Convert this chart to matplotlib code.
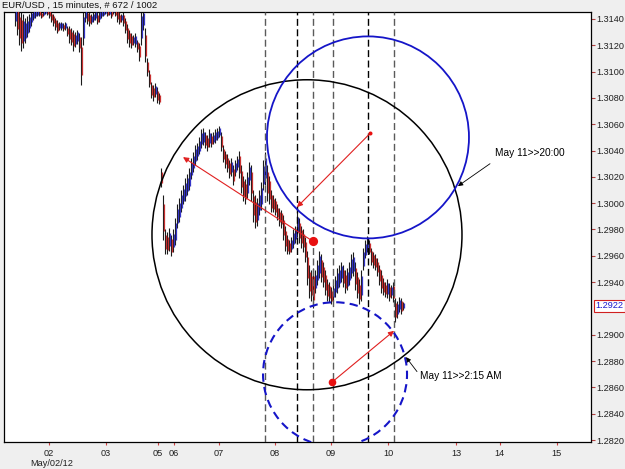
import numpy as np
import matplotlib
matplotlib.use("Agg")
import matplotlib.pyplot as plt
from matplotlib.patches import Ellipse

plt.rcParams['font.family'] = ['Liberation Sans', 'DejaVu Sans']

# ---------------- data (EUR/USD, 15 minute bars, sampled) ----------------
seg1_high = [1.3151, 1.3151, 1.3147, 1.3145, 1.3144, 1.3141, 1.3142, 1.3144, 1.3147, 1.3148,
             1.3147, 1.3148, 1.3147, 1.3145, 1.3147, 1.3148, 1.3147, 1.3148, 1.3145, 1.3144,
             1.3141, 1.3139, 1.3138, 1.3138, 1.3137, 1.3138, 1.3135, 1.3135, 1.3133, 1.3132,
             1.3130, 1.3132, 1.3129, 1.3126, 1.3147, 1.3151, 1.3147, 1.3145, 1.3144, 1.3145,
             1.3147, 1.3145, 1.3147, 1.3148, 1.3147, 1.3148, 1.3147, 1.3148, 1.3147, 1.3150,
             1.3148, 1.3147, 1.3145, 1.3144, 1.3145, 1.3141, 1.3136, 1.3132, 1.3129, 1.3128,
             1.3129, 1.3124, 1.3122, 1.3148, 1.3148, 1.3133, 1.3110, 1.3101, 1.3092, 1.3090,
             1.3091, 1.3088, 1.3084]
seg1_low = [1.3135, 1.3128, 1.3120, 1.3116, 1.3118, 1.3122, 1.3126, 1.3130, 1.3135, 1.3139,
            1.3141, 1.3142, 1.3142, 1.3141, 1.3142, 1.3144, 1.3143, 1.3141, 1.3138, 1.3135,
            1.3132, 1.3129, 1.3132, 1.3132, 1.3131, 1.3132, 1.3127, 1.3122, 1.3120, 1.3116,
            1.3119, 1.3121, 1.3115, 1.3090, 1.3120, 1.3138, 1.3136, 1.3135, 1.3136, 1.3138,
            1.3139, 1.3136, 1.3138, 1.3141, 1.3142, 1.3144, 1.3142, 1.3143, 1.3141, 1.3144,
            1.3142, 1.3138, 1.3136, 1.3138, 1.3135, 1.3129, 1.3122, 1.3119, 1.3118, 1.3120,
            1.3119, 1.3115, 1.3108, 1.3120, 1.3132, 1.3107, 1.3097, 1.3088, 1.3080, 1.3078,
            1.3081, 1.3076, 1.3075]
seg2_high = [1.3027, 1.3006, 1.2980, 1.2978, 1.2981, 1.2976, 1.2980, 1.2989, 1.2999, 1.3004,
             1.3010, 1.3014, 1.3019, 1.3022, 1.3027, 1.3034, 1.3039, 1.3044, 1.3046, 1.3050,
             1.3056, 1.3057, 1.3054, 1.3052, 1.3056, 1.3053, 1.3054, 1.3056, 1.3057, 1.3059,
             1.3054, 1.3044, 1.3040, 1.3037, 1.3033, 1.3034, 1.3029, 1.3033, 1.3036, 1.3040,
             1.3029, 1.3021, 1.3018, 1.3024, 1.3031, 1.3029, 1.3010, 1.3006, 1.3004, 1.3010,
             1.3016, 1.3033, 1.3039, 1.3029, 1.3021, 1.3010, 1.3006, 1.3004, 1.2999, 1.2996,
             1.2995, 1.2991, 1.2983, 1.2976, 1.2972, 1.2974, 1.2980, 1.2983, 1.2993, 1.2989,
             1.2983, 1.2980, 1.2974, 1.2964, 1.2953, 1.2949, 1.2951, 1.2949, 1.2957, 1.2964,
             1.2961, 1.2955, 1.2949, 1.2942, 1.2940, 1.2936, 1.2938, 1.2945, 1.2951, 1.2953,
             1.2955, 1.2953, 1.2949, 1.2951, 1.2955, 1.2961, 1.2963, 1.2955, 1.2948, 1.2942,
             1.2949, 1.2966, 1.2972, 1.2975, 1.2972, 1.2966, 1.2963, 1.2961, 1.2958, 1.2953,
             1.2949, 1.2943, 1.2940, 1.2942, 1.2939, 1.2938, 1.2940, 1.2928, 1.2926, 1.2929,
             1.2928, 1.2925]
seg2_low = [1.3012, 1.2972, 1.2961, 1.2961, 1.2964, 1.2960, 1.2963, 1.2968, 1.2981, 1.2986,
            1.2993, 1.2999, 1.3002, 1.3006, 1.3010, 1.3018, 1.3024, 1.3029, 1.3033, 1.3037,
            1.3042, 1.3044, 1.3042, 1.3040, 1.3043, 1.3043, 1.3045, 1.3046, 1.3048, 1.3050,
            1.3040, 1.3031, 1.3027, 1.3024, 1.3019, 1.3021, 1.3014, 1.3021, 1.3025, 1.3019,
            1.3008, 1.3002, 1.2999, 1.3004, 1.3014, 1.3002, 1.2986, 1.2981, 1.2983, 1.2991,
            1.2995, 1.3010, 1.3014, 1.3002, 1.2999, 1.2993, 1.2993, 1.2991, 1.2987, 1.2983,
            1.2981, 1.2972, 1.2964, 1.2961, 1.2961, 1.2963, 1.2966, 1.2970, 1.2974, 1.2970,
            1.2966, 1.2963, 1.2955, 1.2938, 1.2928, 1.2926, 1.2920, 1.2932, 1.2938, 1.2943,
            1.2940, 1.2936, 1.2930, 1.2926, 1.2925, 1.2923, 1.2926, 1.2929, 1.2932, 1.2936,
            1.2940, 1.2936, 1.2932, 1.2934, 1.2938, 1.2943, 1.2945, 1.2934, 1.2928, 1.2923,
            1.2926, 1.2949, 1.2958, 1.2963, 1.2961, 1.2953, 1.2951, 1.2949, 1.2945, 1.2938,
            1.2932, 1.2930, 1.2929, 1.2928, 1.2926, 1.2928, 1.2925, 1.2910, 1.2913, 1.2917,
            1.2916, 1.2919]

day_ticks = [2.0, 3.0, 3.91, 4.19, 4.98, 5.96, 6.95, 7.95, 9.14, 9.91, 10.91]
day_labels = ['02', '03', '05', '06', '07', '08', '09', '10', '13', '14', '15']
price_ticks = [1.2820, 1.2840, 1.2860, 1.2880, 1.2900, 1.2940, 1.2960, 1.2980,
               1.3000, 1.3020, 1.3040, 1.3060, 1.3080, 1.3100, 1.3120, 1.3140]
last_price = 1.2922

vlines_gray = [5.781, 6.632, 6.974, 8.053]
vlines_black = [6.351, 7.596]

black_circle = (6.526, 1.2976, 155)      # center day, center price, radius (px)
blue_circle = (7.596, 1.3050, 101)
blue_dashed_circle = (7.018, 1.2870, 72)

red_arrows = [  # (tail day, tail price, head day, head price)
    (6.632, 1.2971, 4.351, 1.3035),
    (7.632, 1.3053, 6.351, 1.2997),
    (6.965, 1.2864, 8.053, 1.2903),
]
red_dots = [(6.632, 1.2971, 4.6), (6.965, 1.2864, 3.8), (7.632, 1.3053, 2.0)]

notes = [  # text, text day, text price, arrow tail day/price, arrow head day/price
    ("May 11>>20:00", 9.825, 1.3038, 9.737, 1.3030, 9.175, 1.3013),
    ("May 11>>2:15 AM", 8.509, 1.2869, 8.456, 1.2872, 8.263, 1.2883),
]

# ---------------- figure ----------------
W, H = 625, 469
fig = plt.figure(figsize=(W / 100, H / 100), dpi=100, facecolor='#efefef')
ax_l, ax_r, ax_t, ax_b = 4, 590.7, 12, 442
ax = fig.add_axes([ax_l / W, 1 - ax_b / H, (ax_r - ax_l) / W, (ax_b - ax_t) / H])
ax.set_facecolor('white')
xmin, xmax = 1.2105, 11.5035
ymin, ymax = 1.28185, 1.31453
ax.set_xlim(xmin, xmax)
ax.set_ylim(ymin, ymax)
px_x = (ax_r - ax_l) / (xmax - xmin)
px_y = (ax_b - ax_t) / (ymax - ymin)

highs = np.array(seg1_high + seg2_high)
lows = np.array(seg1_low + seg2_low)
n = len(highs)
step = 2.0 / px_x
x0 = 2 + (15 - 49) / px_x
xs = x0 + step * np.arange(n)
mids = (highs + lows) / 2
up = np.r_[True, mids[1:] >= mids[:-1]]
cols = np.where(up, '#3535c8', '#c83030')
rng = highs - lows

# bars: black wicks with coloured bodies
ax.vlines(xs, lows, highs, colors='#1a1a1a', lw=0.8, zorder=2)
ax.vlines(xs + step * 0.5, lows + rng * 0.2, highs - rng * 0.2,
          colors=cols, lw=0.9, zorder=3)
ax.vlines(xs + step * 0.25, lows + rng * 0.35, highs - rng * 0.3,
          colors=cols[::-1][::-1], lw=0.6, alpha=0.8, zorder=3)

# vertical dashed lines
for v in vlines_gray:
    ax.axvline(v, color='#5a5a5a', lw=1.0, ls=(0, (5, 2.5)), zorder=4)
for v in vlines_black:
    ax.axvline(v, color='#000000', lw=1.0, ls=(0, (5, 2.5)), zorder=4)

def circ(c, **kw):
    cx, cy, r = c
    return Ellipse((cx, cy), 2 * r / px_x, 2 * r / px_y, fill=False, **kw)

ax.add_patch(circ(black_circle, edgecolor='black', lw=1.1, zorder=5))
ax.add_patch(circ(blue_circle, edgecolor='#1515c8', lw=1.3, zorder=5))
ax.add_patch(circ(blue_dashed_circle, edgecolor='#1515c8', lw=1.5,
                  ls=(0, (4, 2.5)), zorder=5))

for tx, ty, hx, hy in red_arrows:
    ax.annotate('', xy=(hx, hy), xytext=(tx, ty),
                arrowprops=dict(arrowstyle='-|>', color='#e02020', lw=0.8,
                                mutation_scale=8, shrinkA=0, shrinkB=0), zorder=6)
for dx, dy, r in red_dots:
    ax.plot(dx, dy, 'o', color='#e81010', ms=r * 2 * 0.72, mec='none', zorder=7)

for txt, tx, ty, ax0, ay0, ax1, ay1 in notes:
    ax.text(tx, ty, txt, fontsize=7.3, va='center', ha='left', color='black', zorder=8)
    ax.annotate('', xy=(ax1, ay1), xytext=(ax0, ay0),
                arrowprops=dict(arrowstyle='-|>', color='black', lw=0.6,
                                mutation_scale=7, shrinkA=0, shrinkB=0), zorder=8)

# axes styling
for s in ax.spines.values():
    s.set_color('black')
    s.set_linewidth(0.9)
ax.yaxis.tick_right()
ax.set_yticks(price_ticks)
ax.set_yticklabels(['%.4f' % p for p in price_ticks])
ax.tick_params(axis='y', direction='out', length=3, width=0.8, color='#b04040',
               labelsize=6.6, pad=1, labelcolor='#202020')
ax.set_xticks(day_ticks)
ax.set_xticklabels(day_labels)
ax.tick_params(axis='x', direction='out', length=2, width=0.8, color='#d04040',
               labelsize=6.6, pad=3, labelcolor='#202020')

# current price label
ax.text(1.0 + 5 / (ax_r - ax_l), last_price, '%.4f' % last_price, transform=ax.get_yaxis_transform(),
        fontsize=6.6, color='#1a1ad0', va='center', ha='left', zorder=9,
        bbox=dict(boxstyle='square,pad=0.15', fc='white', ec='#d02020', lw=0.8))

fig.text(2 / W, 1 - 5 / H, 'EUR/USD , 15 minutes, # 672 / 1002', fontsize=6.8,
         va='center', ha='left', color='#101010')
fig.text(30 / W, 1 - 463 / H, 'May/02/12', fontsize=6.6, va='center', ha='left',
         color='#202020')

fig.savefig('out.png', dpi=100, facecolor=fig.get_facecolor())
